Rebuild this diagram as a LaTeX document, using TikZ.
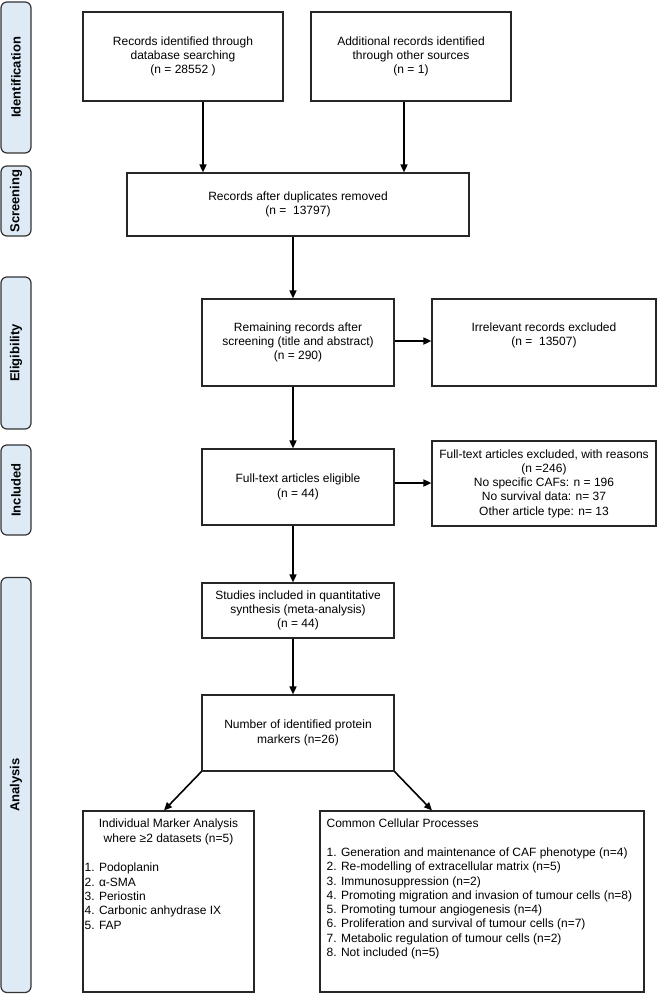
\documentclass[tikz,border=0pt]{standalone}
\usepackage{fontspec}
\setmainfont{Liberation Sans}
\usetikzlibrary{arrows.meta}
\definecolor{bandblue}{HTML}{DEEBF7}

\begin{document}
\begin{tikzpicture}[x=1pt, y=-1pt,
  box/.style={draw=black!85, line width=1.2pt, inner sep=0pt, align=center, font=\fontsize{12pt}{14.3pt}\selectfont},
  txt/.style={inner sep=0pt, font=\fontsize{12pt}{14.3pt}\selectfont},
  band/.style={draw=black!80, line width=1.2pt, fill=bandblue, rounded corners=6pt, rotate=90, minimum height=30pt, inner sep=0pt, font=\bfseries\fontsize{13pt}{15pt}\selectfont},
  arr/.style={-{Triangle[length=8pt,width=7pt]}, line width=1.6pt}]
\useasboundingbox (0,0) rectangle (657,994);

% stage bands
\node[band, minimum width=151pt] (s1) at (16,77.5) {Identification};
\node[band, minimum width=70pt] (s2) at (16,201) {Screening};
\node[band, minimum width=152pt] (s3) at (16,353) {Eligibility};
\node[band, minimum width=90pt] (s4) at (16,490) {Included};
\node[band, minimum width=415pt] (s5) at (16,785) {Analysis};

% flow boxes
\node[box, minimum width=200pt, minimum height=89pt] (id1) at (183,56.5) {Records identified through\\database searching\\(n = 28552 )};
\node[box, minimum width=200pt, minimum height=89pt] (id2) at (411,56.5) {Additional records identified\\through other sources\\(n = 1)};
\node[box, minimum width=342pt, minimum height=63pt] (sc1) at (298,204.5) {Records after duplicates removed\\(n = \ 13797)};
\node[box, minimum width=192pt, minimum height=87pt] (el1) at (298,342.5) {Remaining records after\\screening (title and abstract)\\(n = 290)};
\node[box, minimum width=224pt, minimum height=87pt, text depth=16.8pt] (el2) at (544,342.5) {Irrelevant records excluded\\(n = \ 13507)};
\node[box, minimum width=192pt, minimum height=76pt] (in1) at (298,487) {Full-text articles eligible\\(n = 44)};
\node[box, minimum width=224pt, minimum height=85pt] (in2) at (544,483.5) {Full-text articles excluded, with reasons\\(n =246)\\No specific CAFs: n = 196\\No survival data: n= 37\\Other article type: n= 13};
\node[box, minimum width=192pt, minimum height=55pt] (an1) at (298,610.5) {Studies included in quantitative\\synthesis (meta-analysis)\\(n = 44)};
\node[box, minimum width=192pt, minimum height=76pt] (an2) at (298,733) {Number of identified protein\\markers (n=26)};
\node[box, minimum width=171pt, minimum height=181pt] (an3) at (168.5,901.5) {};
\node[box, minimum width=324pt, minimum height=181pt] (an4) at (482,901.5) {};

% texts of the two bottom boxes
\node[txt, anchor=north, align=center] (an3a) at ([yshift=-8.5pt]an3.north) {Individual Marker Analysis\\where ≥2 datasets (n=5)};
\node[txt, anchor=north west, align=left] (an3b) at ([xshift=2pt,yshift=-52.5pt]an3.north west) {1. Podoplanin\\2. α-SMA\\3. Periostin\\4. Carbonic anhydrase IX\\5. FAP};
\node[txt, anchor=north west, align=left] (an4a) at ([xshift=7pt,yshift=-8.5pt]an4.north west) {Common Cellular Processes\\[14.3pt]1. Generation and maintenance of CAF phenotype (n=4)\\2. Re-modelling of extracellular matrix (n=5)\\3. Immunosuppression (n=2)\\4. Promoting migration and invasion of tumour cells (n=8)\\5. Promoting tumour angiogenesis (n=4)\\6. Proliferation and survival of tumour cells (n=7)\\7. Metabolic regulation of tumour cells (n=2)\\8. Not included (n=5)};

% arrows
\draw[arr] ([xshift=20pt]id1.south) -- ([xshift=-95pt]sc1.north);
\draw[arr] ([xshift=-7pt]id2.south) -- ([xshift=106pt]sc1.north);
\draw[arr] ([xshift=-5pt]sc1.south) -- ([xshift=-5pt]el1.north);
\draw[arr] ([yshift=1.5pt]el1.east) -- ([yshift=1.5pt]el2.west);
\draw[arr] ([xshift=-5pt]el1.south) -- ([xshift=-5pt]in1.north);
\draw[arr] ([yshift=4pt]in1.east) -- ([yshift=0.5pt]in2.west);
\draw[arr] ([xshift=-5pt]in1.south) -- ([xshift=-5pt]an1.north);
\draw[arr] ([xshift=-5pt]an1.south) -- ([xshift=-5pt]an2.north);
\draw[arr] (an2.south west) -- ([xshift=-4.5pt]an3.north);
\draw[arr] (an2.south east) -- ([xshift=-50pt]an4.north);
\end{tikzpicture}
\end{document}
